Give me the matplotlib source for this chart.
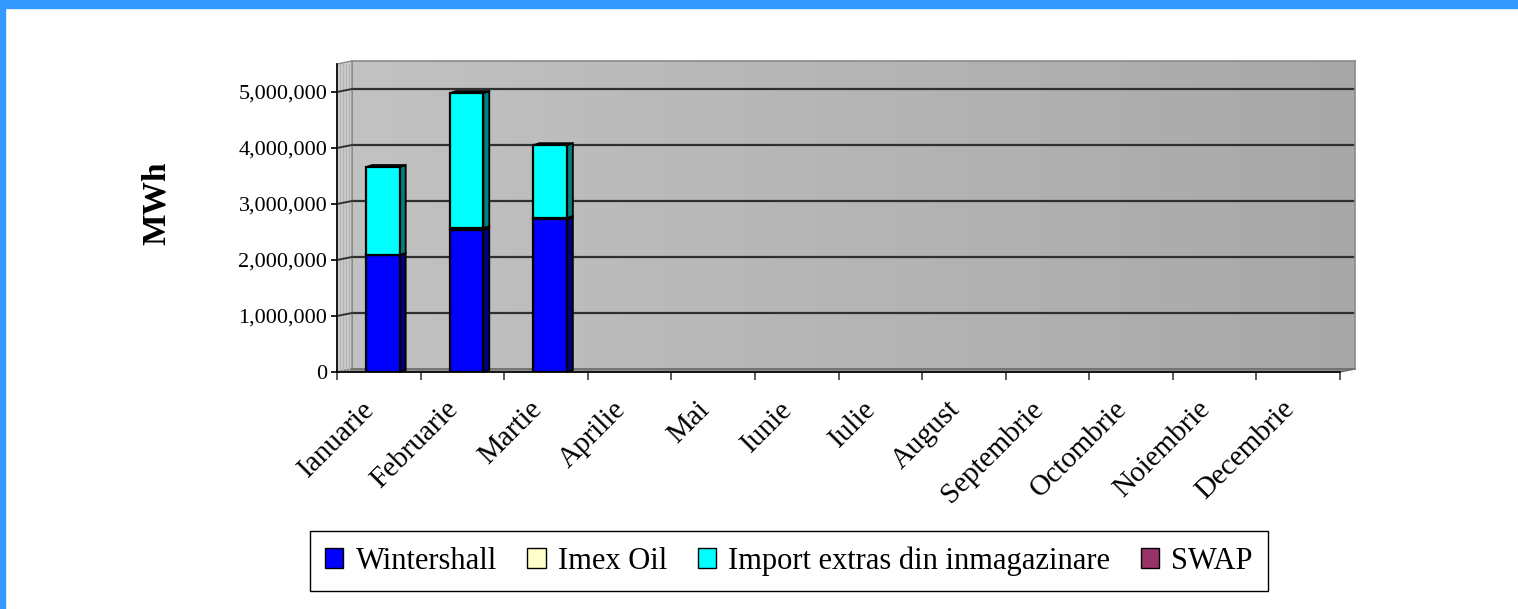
import numpy as np
import matplotlib.pyplot as plt
from matplotlib.patches import Rectangle, Polygon, Patch
from matplotlib.transforms import IdentityTransform, ScaledTranslation

plt.rcParams['font.family'] = ['Liberation Serif', 'DejaVu Serif']

# data
months = ['Ianuarie', 'Februarie', 'Martie', 'Aprilie', 'Mai', 'Iunie', 'Iulie',
          'August', 'Septembrie', 'Octombrie', 'Noiembrie', 'Decembrie']
wintershall = [2090000, 2540000, 2730000, 0, 0, 0, 0, 0, 0, 0, 0, 0]
imex_oil = [0, 30000, 20000, 0, 0, 0, 0, 0, 0, 0, 0, 0]
import_extras = [1570000, 2410000, 1300000, 0, 0, 0, 0, 0, 0, 0, 0, 0]
swap = [0, 0, 0, 0, 0, 0, 0, 0, 0, 0, 0, 0]
series_names = ['Wintershall', 'Imex Oil', 'Import extras din inmagazinare', 'SWAP']
front_colors = ['#0000ff', '#ffffcc', '#00ffff', '#993366']
side_colors = ['#000080', '#8c8c70', '#008080', '#4d1a33']
yticks = [0, 1000000, 2000000, 3000000, 4000000, 5000000]
ymax = 5500000

W, H = 1518, 609
fig = plt.figure(figsize=(W / 100, H / 100), dpi=100)

# blue frame of the slide
fig.patches.append(Rectangle((0, 1 - 8 / H), 1, 8 / H, transform=fig.transFigure,
                             color='#3399ff', zorder=10))
fig.patches.append(Rectangle((0, 0), 5 / W, 1, transform=fig.transFigure,
                             color='#3399ff', zorder=10))

# plot area (front plane) in pixels
x_left, x_right = 337, 1340
y_bot, y_top = 372, 64
ddx, ddy = 15, 3  # depth of the walls
left, bottom = x_left / W, 1 - y_bot / H
width, height = (x_right - x_left) / W, (y_bot - y_top) / H

n = len(months)
xlim = (-0.5, n - 0.5)

# back wall
axb = fig.add_axes([left + ddx / W, bottom + ddy / H, width, height], zorder=0)
grad = np.linspace(0, 1, 256).reshape(1, -1)
axb.imshow(grad, extent=(xlim[0], xlim[1], 0, ymax), aspect='auto',
           cmap=plt.matplotlib.colors.LinearSegmentedColormap.from_list(
               'wall', ['#c2c2c2', '#a8a8a8']), origin='lower')
for v in yticks[1:]:
    axb.axhline(v, color='#303030', lw=1.6)
axb.set_xlim(xlim)
axb.set_ylim(0, ymax)
axb.set_xticks([])
axb.set_yticks([])
for s in axb.spines.values():
    s.set_color('#8a8a8a')
    s.set_linewidth(1.2)

# main axes
ax = fig.add_axes([left, bottom, width, height], zorder=1)
ax.patch.set_alpha(0)
ax.set_xlim(xlim)
ax.set_ylim(0, ymax)
fig.canvas.draw()
td = ax.transData

def pix(x, y):
    return td.transform((x, y))

# side wall and floor
p0, p1 = pix(xlim[0], 0), pix(xlim[0], ymax)
ax.add_patch(Polygon([p0, p1, p1 + (ddx, ddy), p0 + (ddx, ddy)], closed=True,
                     facecolor='#cdcdcd', edgecolor='#8a8a8a', lw=1,
                     transform=IdentityTransform(), clip_on=False, zorder=1))
for k in range(1, 5):
    xs = p0[0] + ddx * k / 5
    ax.add_line(plt.Line2D([xs, xs], [p0[1] + ddy * k / 5, p1[1] + ddy * k / 5],
                           color='#b4b4b4', lw=1, transform=IdentityTransform(),
                           zorder=1.5))
q0, q1 = pix(xlim[0], 0), pix(xlim[1], 0)
ax.add_patch(Polygon([q0, q1, q1 + (ddx, ddy), q0 + (ddx, ddy)], closed=True,
                     facecolor='#8c8c8c', edgecolor='#6a6a6a', lw=1,
                     transform=IdentityTransform(), clip_on=False, zorder=1))
for v in yticks[1:]:
    a = pix(xlim[0], v)
    ax.add_line(plt.Line2D([a[0], a[0] + ddx], [a[1], a[1] + ddy], color='#303030',
                           lw=1.4, transform=IdentityTransform(), zorder=2))

# 3d stacked bars
bw = 0.4
shift = 0.05
bdx, bdy = 6, 2
all_series = [wintershall, imex_oil, import_extras, swap]
base = np.zeros(n)
for vals, fc, sc in zip(all_series, front_colors, side_colors):
    vals = np.array(vals, dtype=float)
    for i in range(n):
        if vals[i] <= 0:
            continue
        x0, x1 = i + shift - bw / 2, i + shift + bw / 2
        y0, y1 = base[i], base[i] + vals[i]
        bl, br, tl, tr = pix(x0, y0), pix(x1, y0), pix(x0, y1), pix(x1, y1)
        d = np.array([bdx, bdy])
        ax.add_patch(Polygon([br, tr, tr + d, br + d], closed=True, facecolor=sc,
                             edgecolor='black', lw=1.3, transform=IdentityTransform(),
                             clip_on=False, zorder=3))
        ax.add_patch(Polygon([tl, tr, tr + d, tl + d], closed=True, facecolor=sc,
                             edgecolor='black', lw=1.3, transform=IdentityTransform(),
                             clip_on=False, zorder=3))
        ax.add_patch(Rectangle((x0, y0), bw, vals[i], facecolor=fc, edgecolor='black',
                               lw=1.6, zorder=4))
    base += vals

# axes styling
for s in ['top', 'right']:
    ax.spines[s].set_visible(False)
ax.spines['left'].set_linewidth(1.2)
ax.spines['bottom'].set_linewidth(1.2)
ax.set_yticks(yticks)
ax.set_yticklabels(['{:,}'.format(v) for v in yticks], fontsize=16)
ax.tick_params(axis='y', length=4, width=1.2, pad=3)
ax.set_xticks(np.arange(n))
ax.set_xticklabels(months, rotation=45, ha='right', va='center',
                   rotation_mode='anchor', fontsize=21)
ax.set_xticks(np.arange(n + 1) - 0.5, minor=True)
ax.tick_params(axis='x', which='major', length=0, pad=24)
ax.tick_params(axis='x', which='minor', length=6, width=1.2, color='#404040')
for lab in ax.get_xticklabels():
    lab.set_transform(lab.get_transform() + ScaledTranslation(-0.08, 0, fig.dpi_scale_trans))

fig.text(156 / W, 1 - 203 / H, 'MWh', rotation=90, fontsize=24, fontweight='bold',
         ha='center', va='center')

handles = [Patch(facecolor=c, edgecolor='black', lw=1) for c in front_colors]
leg = fig.legend(handles, series_names, loc='center', ncol=4,
                 bbox_to_anchor=(789 / W, 1 - 561 / H), fontsize=22,
                 handlelength=0.6, handleheight=0.65, handletextpad=0.4,
                 columnspacing=1.0, fancybox=False, edgecolor='black',
                 borderpad=0.5, framealpha=1)
leg.get_frame().set_linewidth(1)

fig.savefig('out.png', dpi=100)
